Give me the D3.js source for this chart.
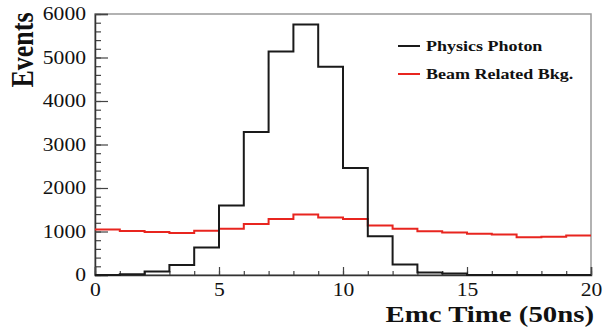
<!DOCTYPE html>
<html>
<head>
<meta charset="utf-8">
<script src="https://cdn.jsdelivr.net/npm/d3@7"></script>
<style>
  body { margin: 0; background: #fff; }
  text { font-family: "Liberation Serif", "Times New Roman", serif; fill: #111; }
  .axis path { stroke: #333; stroke-width: 1.5; }
  .axis line { stroke: #444; stroke-width: 1.2; }
  .minor path { display: none; }
  .line { fill: none; stroke-width: 2; }
</style>
</head>
<body>
<script>
// bin edges 0..20 (50ns units), one bin per unit
var binEdges = [0, 1, 2, 3, 4, 5, 6, 7, 8, 9, 10, 11, 12, 13, 14, 15, 16, 17, 18, 19, 20];
var physicsPhoton = [0, 15, 80, 230, 630, 1600, 3290, 5140, 5760, 4790, 2460, 890, 240, 60, 35, 0, 0, 0, 0, 0];
var beamBkg = [1048, 1011, 990, 968, 1018, 1066, 1170, 1287, 1390, 1320, 1287, 1140, 1062, 1008, 975, 948, 932, 866, 880, 910];
var yTicks = [0, 1000, 2000, 3000, 4000, 5000, 6000];
var xTicks = [0, 5, 10, 15, 20];
var legendNames = ["Physics Photon", "Beam Related Bkg."];

var margin = { top: 14, right: 12, bottom: 56, left: 95 };
var width = 603 - margin.left - margin.right;
var height = 331 - margin.top - margin.bottom;

var colors = {
    "Physics Photon": "#1a1a1a",
    "Beam Related Bkg.": "#e8251f"
};

// the reference looks stretched sideways, so text is widened a bit
var stretch = 1.2;

var svg = d3.select("body").append("svg")
    .attr("width", 603)
    .attr("height", 331)
    .append("g")
    .attr("transform", "translate(" + margin.left + "," + margin.top + ")");

var xScale = d3.scaleLinear().domain([0, 20]).range([0, width]);
var yScale = d3.scaleLinear().domain([0, 6000]).range([height, 0]);

// frame (top / right)
svg.append("rect")
    .attr("width", width)
    .attr("height", height)
    .style("fill", "none")
    .style("stroke", "#999")
    .style("stroke-width", 1.5);

// minor ticks
svg.append("g")
    .attr("class", "axis minor")
    .call(d3.axisLeft(yScale).tickValues(d3.range(0, 6001, 200)).tickSize(-6).tickFormat(""));

svg.append("g")
    .attr("class", "axis minor")
    .attr("transform", "translate(0," + height + ")")
    .call(d3.axisBottom(xScale).tickValues(binEdges).tickSize(-4).tickFormat(""));

// major ticks + labels
var yAxis = svg.append("g")
    .attr("class", "axis")
    .call(d3.axisLeft(yScale).tickValues(yTicks).tickSize(-13).tickPadding(9 / stretch).tickFormat(d3.format("d")));

yAxis.selectAll("text")
    .attr("transform", "scale(" + stretch + ",1)")
    .style("font-size", "18px");

var xAxis = svg.append("g")
    .attr("class", "axis")
    .attr("transform", "translate(0," + height + ")")
    .call(d3.axisBottom(xScale).tickValues(xTicks).tickSize(-8).tickPadding(8).tickFormat(d3.format("d")));

xAxis.selectAll("text")
    .attr("transform", "scale(" + stretch + ",1)")
    .style("font-size", "18px");

// histograms as steps
function stepLine(values) {
    var pts = values.map(function(v, i) { return [binEdges[i], v]; });
    pts.push([binEdges[binEdges.length - 1], values[values.length - 1]]);
    return d3.line()
        .x(function(d) { return xScale(d[0]); })
        .y(function(d) { return yScale(d[1]); })
        .curve(d3.curveStepAfter)(pts);
}

svg.append("path")
    .attr("class", "line")
    .style("stroke", colors["Beam Related Bkg."])
    .attr("d", stepLine(beamBkg));

svg.append("path")
    .attr("class", "line")
    .style("stroke", colors["Physics Photon"])
    .attr("d", stepLine(physicsPhoton));

// axis titles
svg.append("text")
    .attr("transform", "translate(" + (33 - margin.left) + "," + 36 + ") rotate(-90) scale(1," + stretch + ")")
    .style("text-anchor", "middle")
    .style("font-weight", "bold")
    .style("font-size", "26px")
    .text("Events");

svg.append("text")
    .attr("transform", "translate(" + (width + 3) + "," + (height + 47) + ") scale(" + stretch + ",1)")
    .style("text-anchor", "end")
    .style("font-weight", "bold")
    .style("font-size", "24px")
    .text("Emc Time (50ns)");

// legend
var legend = svg.append("g")
    .attr("class", "legend")
    .attr("transform", "translate(" + (303) + "," + 32 + ")");

legend.selectAll("line").data(legendNames).enter()
    .append("line")
    .attr("x1", 0)
    .attr("x2", 22)
    .attr("y1", function(d, i) { return i * 28; })
    .attr("y2", function(d, i) { return i * 28; })
    .style("stroke", function(d) { return colors[d]; })
    .style("stroke-width", 2);

legend.selectAll("text").data(legendNames).enter()
    .append("text")
    .attr("transform", function(d, i) { return "translate(28," + (i * 28 + 5) + ") scale(" + stretch + ",1)"; })
    .style("font-size", "15px")
    .style("font-weight", "bold")
    .text(function(d) { return d; });
</script>
</body>
</html>
